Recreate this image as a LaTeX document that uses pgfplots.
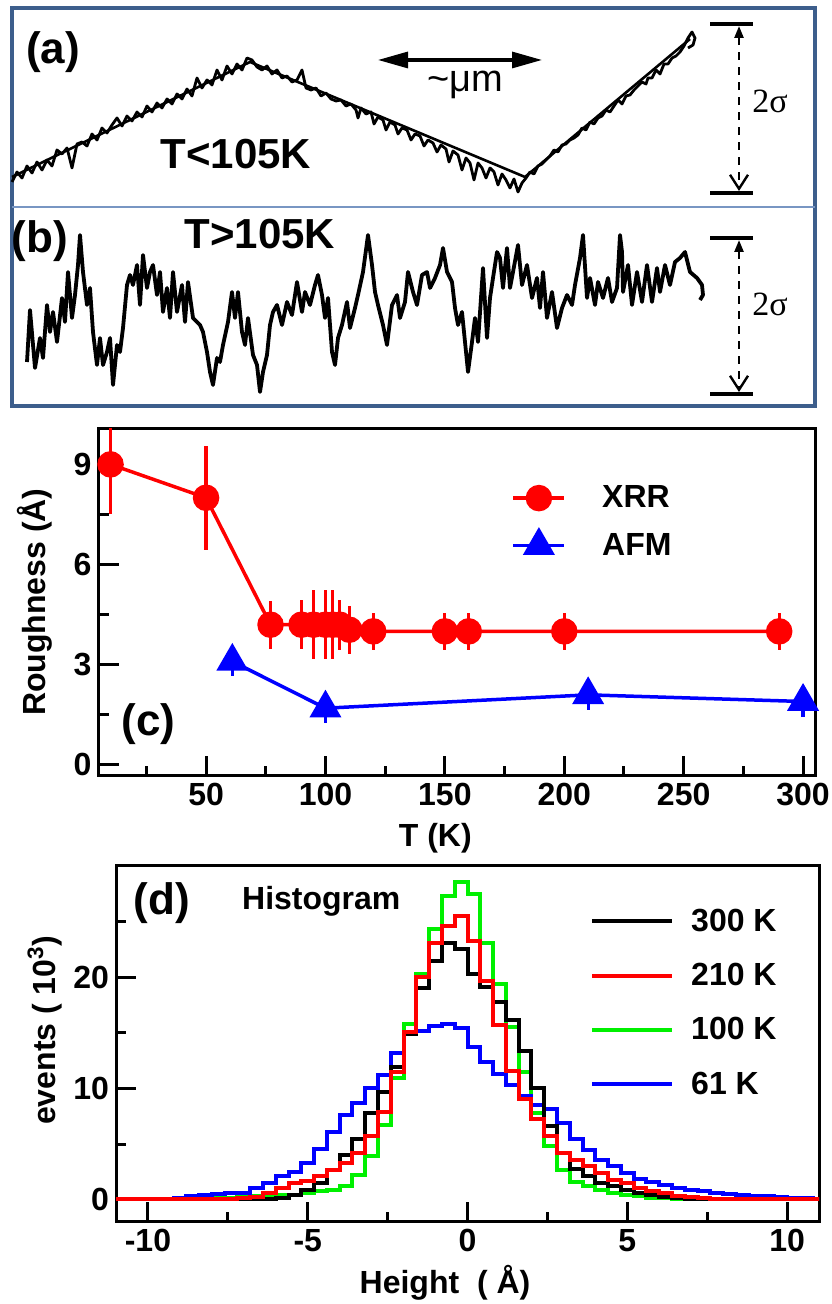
\documentclass[border=0pt]{standalone}
\usepackage{fontspec}
\setmainfont{Liberation Sans}
\newfontfamily\tnr{Liberation Serif}
\usepackage{pgfplots}
\usepackage{pgfplotstable}
\pgfplotsset{compat=1.18}
\usetikzlibrary{arrows.meta}

\definecolor{framec}{RGB}{61,94,140}
\definecolor{divc}{RGB}{120,150,195}
\definecolor{hgreen}{RGB}{0,240,0}
\newcommand{\fs}[1]{\fontsize{#1}{#1}\selectfont}

% histogram (d): left bin edge, 300K, 210K, 100K, 61K  (events / 1000)
\pgfplotstableread{
x     k     r     g     b
-11.2 0.05  0.05  0.05  0.05
-10.8 0.05  0.05  0.05  0.05
-10.4 0.05  0.05  0.05  0.05
-10.0 0.05  0.05  0.05  0.1
-9.6  0.05  0.05  0.05  0.1
-9.2  0.05  0.05  0.05  0.2
-8.8  0.05  0.05  0.1   0.3
-8.4  0.05  0.1   0.15  0.4
-8.0  0.05  0.1   0.15  0.5
-7.6  0.05  0.1   0.2   0.65
-7.2  0.1   0.15  0.25  0.65
-6.8  0.1   0.25  0.3   1.05
-6.4  0.1   0.6   0.35  1.5
-6.0  0.15  1.05  0.45  2.1
-5.6  0.4   1.5   0.45  2.5
-5.2  0.9   1.65  0.6   3.3
-4.8  1.5   2.15  0.75  4.6
-4.4  2.7   2.7   0.9   6.1
-4.0  4.0   3.3   1.25  7.6
-3.6  5.5   4.2   2.2   8.7
-3.2  7.8   5.7   3.9   10.0
-2.8  9.7   7.9   6.7   11.2
-2.4  11.9  11.5  10.9  13.2
-2.0  14.9  15.1  15.8  15.0
-1.6  19.0  20.0  20.3  15.2
-1.2  21.5  23.1  24.3  15.6
-0.8  23.1  24.6  27.3  15.8
-0.4  22.5  25.5  28.6  15.4
0.0   20.3  23.3  27.5  13.7
0.4   19.1  19.7  23.1  12.4
0.8   17.8  15.7  19.4  11.3
1.2   16.2  11.6  15.5  10.3
1.6   13.4  9.1   11.5  9.3
2.0   10.0  7.3   7.8   8.5
2.4   6.6   5.7   4.8   8.2
2.8   4.2   4.2   2.7   6.9
3.2   2.8   3.6   1.6   5.5
3.6   2.1   3.0   1.2   4.5
4.0   1.5   2.4   0.9   3.6
4.4   1.2   1.8   0.65  3.0
4.8   0.9   1.5   0.45  2.4
5.2   0.65  1.05  0.3   1.9
5.6   0.45  0.75  0.2   1.6
6.0   0.25  0.6   0.15  1.3
6.4   0.15  0.35  0.1   1.05
6.8   0.1   0.25  0.05  0.9
7.2   0.05  0.15  0.05  0.75
7.6   0.05  0.1   0.05  0.6
8.0   0.05  0.1   0.05  0.5
8.4   0.05  0.1   0.05  0.45
8.8   0.05  0.1   0.05  0.35
9.2   0.05  0.1   0.05  0.3
9.6   0.05  0.1   0.05  0.25
10.0  0.05  0.1   0.05  0.2
10.4  0.05  0.1   0.05  0.15
10.8  0.05  0.1   0.05  0.1
11.2  0.05  0.1   0.05  0.1
}\histo

\pgfplotsset{
  panel/.style={scale only axis, tick pos=left, tick align=inside,
    major tick length=10pt, minor tick length=5pt,
    axis line style={line width=1.5pt},
    every tick/.style={black, line width=1.5pt},
    tick label style={font=\fs{16}\bfseries},
    label style={font=\fs{16}\bfseries},
    /pgf/number format/assume math mode=true,
    legend cell align=left},
}

\begin{document}
\begin{tikzpicture}
\path[use as bounding box] (0,0) rectangle (415.5pt,652pt);

% ---------- (a) and (b): sketched profiles, coordinates in pixels ----------
\begin{axis}[at={(206.75pt,548.5pt)}, anchor=center, scale only axis,
  width=401.5pt, height=199pt, xmin=12, xmax=815, ymin=8, ymax=406,
  y dir=reverse, axis lines=none, clip=false]
\draw[framec, line width=1.6pt] (axis cs:12,8) rectangle (axis cs:815,406);
\draw[divc, line width=1pt] (axis cs:12,207) -- (axis cs:815,207);

% (a) T<105K
\addplot[black, line width=1.3pt] coordinates {(12,177) (250,62) (525,177) (690,39)};
\addplot[black, line width=1.4pt, line join=round] coordinates {
 (12,182) (17,172) (22,178) (27,166) (32,173) (37,162) (42,170) (47,160) (52,166)
 (57,150) (62,154) (67,148) (72,168) (77,144) (82,142) (87,146) (92,134) (97,140)
 (102,128) (107,133) (112,125) (117,118) (122,126) (127,116) (132,121) (137,112)
 (142,117) (147,106) (152,112) (157,103) (162,108) (167,99) (172,104) (177,94)
 (182,99) (187,89) (192,96) (197,78) (202,88) (207,80) (212,85) (217,70) (222,80)
 (227,66) (232,74) (237,64) (242,70) (247,58) (252,60) (257,67) (262,70) (267,66)
 (272,74) (277,70) (282,78) (287,76) (292,82) (297,80) (302,70) (306,88) (311,90)
 (316,88) (321,96) (326,93) (331,99) (336,101) (341,100) (346,106) (351,104)
 (356,110) (358,118) (361,108) (366,114) (371,112) (374,124) (378,117) (383,120)
 (386,130) (390,122) (395,125) (398,134) (402,128) (407,130) (411,140) (415,134)
 (420,136) (424,146) (428,140) (433,143) (437,152) (441,145) (446,149) (449,162)
 (453,151) (458,155) (462,170) (466,158) (470,163) (474,180) (478,163) (482,168)
 (486,178) (490,168) (494,172) (498,185) (502,174) (506,180) (510,188) (514,179)
 (518,192) (522,183) (526,178) (530,172) (534,174) (538,166) (542,164) (546,160)
 (550,156) (554,150) (558,152) (562,145) (566,144) (570,140) (574,138) (578,135)
 (582,128) (586,130) (590,122) (594,124) (598,118) (602,116) (606,110) (610,112)
 (614,106) (618,100) (622,104) (626,96) (630,95) (634,90) (638,86) (642,82)
 (646,84) (648,78) (652,78) (656,70) (660,74) (664,64) (668,64) (672,58) (676,56)
 (680,52) (684,46) (688,38) (692,32) (695,38) (693,45) (688,48)};

% (b) T>105K
\addplot[black, line width=1.9pt, line join=round] coordinates {
 (27,362) (30,310) (35,368) (40,338) (43,358) (47,305) (50,332) (53,312) (57,342)
 (62,298) (65,322) (68,272) (72,318) (75,295) (78,265) (80,235) (83,272) (87,305)
 (90,288) (93,332) (97,365) (100,338) (103,365) (107,352) (110,338) (113,385)
 (117,345) (120,352) (123,328) (127,285) (130,275) (133,285) (137,265) (140,305)
 (143,255) (147,288) (150,272) (153,265) (157,295) (160,272) (163,312) (167,288)
 (170,318) (173,272) (177,312) (182,285) (185,322) (188,282) (193,318) (200,325)
 (203,332) (207,352) (210,372) (213,385) (217,358) (220,362) (223,345) (228,322)
 (232,292) (235,318) (238,292) (242,332) (245,345) (248,318) (253,355) (257,365)
 (260,392) (263,372) (267,355) (270,325) (273,312) (277,305) (282,325) (287,302)
 (292,315) (297,282) (302,312) (305,292) (310,305) (315,285) (318,275) (322,295)
 (325,318) (328,298) (332,352) (335,365) (338,338) (342,325) (347,302) (350,328)
 (355,308) (358,295) (363,272) (368,235) (372,265) (375,292) (378,305) (383,325)
 (387,345) (392,305) (397,295) (400,318) (405,302) (408,272) (413,292) (417,305)
 (422,275) (427,272) (430,288) (435,278) (440,265) (443,248) (447,272) (452,282)
 (455,308) (458,325) (462,312) (465,342) (468,372) (472,342) (475,318) (478,342)
 (483,268) (487,338) (490,298) (493,278) (497,252) (500,258) (503,288) (507,248)
 (510,288) (513,272) (518,245) (522,285) (527,265) (532,298) (537,278) (540,308)
 (543,272) (547,318) (552,292) (557,328) (562,308) (567,295) (572,305) (575,285)
 (580,258) (583,235) (587,298) (590,278) (595,305) (598,282) (603,298) (608,278)
 (612,302) (617,288) (620,235) (622,252) (623,292) (628,265) (632,305) (637,272)
 (642,302) (647,265) (652,302) (657,268) (660,292) (665,265) (670,285) (675,262)
 (680,258) (685,252) (690,272) (697,278) (702,285) (703,295) (700,300)};

% annotations
\node[font=\fs{22}\bfseries] at (axis cs:53,52) {(a)};
\node[font=\fs{21}\bfseries] at (axis cs:236,154) {T<105K};
\node[font=\fs{22}\bfseries] at (axis cs:40,241) {(b)};
\node[font=\fs{21}\bfseries] at (axis cs:260,234) {T>105K};
\draw[line width=1.6pt, {Triangle[length=15pt,width=8pt]}-{Triangle[length=15pt,width=8pt]}]
  (axis cs:378,60) -- (axis cs:542,60);
\node[font=\fs{19}] at (axis cs:465,85) {\textasciitilde μm};
% 2 sigma markers
\draw[line width=1.6pt] (axis cs:710,24) -- (axis cs:753,24) (axis cs:710,193) -- (axis cs:753,193);
\draw[line width=1.2pt, dash pattern=on 4pt off 3.5pt,
  {Triangle[length=6pt,width=4.5pt]}-{Straight Barb[length=7pt,width=9pt]}]
  (axis cs:739,26) -- (axis cs:739,191);
\node[font=\tnr\fs{17}] at (axis cs:770,101) {2σ};
\draw[line width=1.6pt] (axis cs:710,238) -- (axis cs:753,238) (axis cs:710,394) -- (axis cs:753,394);
\draw[line width=1.2pt, dash pattern=on 4pt off 3.5pt,
  {Triangle[length=6pt,width=4.5pt]}-{Straight Barb[length=7pt,width=9pt]}]
  (axis cs:739,240) -- (axis cs:739,392);
\node[font=\tnr\fs{17}] at (axis cs:770,304) {2σ};
\end{axis}

% ---------- (c) roughness vs T ----------
\begin{axis}[panel, at={(49.3pt,264pt)}, anchor=south west,
  width=358.2pt, height=173.5pt,
  xmin=5, xmax=305, ymin=-0.33, ymax=10.06,
  xtick={50,100,150,200,250,300}, minor xtick={25,75,125,175,225,275},
  ytick={0,3,6,9}, minor ytick={1.5,4.5,7.5},
  xlabel={T (K)}, ylabel={Roughness (Å)},
  xlabel style={at={(axis description cs:0.47,-0.179)}, anchor=center},
  ylabel style={at={(axis description cs:-0.089,0.501)}, anchor=center},
  clip mode=individual,
  legend image code/.code={\draw[mark repeat=2,mark phase=2,#1]
    plot coordinates {(0pt,0pt) (12.75pt,0pt) (25.5pt,0pt)};},
  legend style={draw=none, fill=none, at={(0.576,0.838)}, anchor=north west,
    font=\fs{16}\bfseries, row sep=10pt, column sep=18pt, inner sep=0pt,
    nodes={inner sep=0pt}},
]
\addplot[red, line width=1.75pt, mark=*, mark size=5.75pt,
  error bars/.cd, y dir=both, y explicit, error mark=none,
  error bar style={line width=1.6pt}] coordinates {
  (10,9.0) +- (0,1.5)
  (50,8.0) +- (0,1.55)
  (77,4.2) +- (0,0.72)
  (90,4.2) +- (0,0.74)
  (95,4.2) +- (0,1.03)
  (100,4.2) +- (0,1.03)
  (103,4.2) +- (0,1.03)
  (106,4.2) +- (0,0.75)
  (110,4.05) +- (0,0.72)
  (120,4.0) +- (0,0.55)
  (150,4.0) +- (0,0.55)
  (160,4.0) +- (0,0.55)
  (200,4.0) +- (0,0.55)
  (290,4.0) +- (0,0.55)
};
\addlegendentry{XRR}
\addplot[blue, line width=1.75pt, mark=triangle*, mark size=7.5pt,
  error bars/.cd, y dir=both, y explicit, error mark=none,
  error bar style={line width=1.6pt}] coordinates {
  (61,3.1) +- (0,0.45)
  (100,1.7) +- (0,0.45)
  (210,2.1) +- (0,0.45)
  (300,1.9) +- (0,0.45)
};
\addlegendentry{AFM}
\node[font=\fs{22}\bfseries] at (rel axis cs:0.07,0.15) {(c)};
\end{axis}

% ---------- (d) height histograms ----------
\begin{axis}[panel, at={(58pt,41pt)}, anchor=south west,
  width=351.5pt, height=178pt,
  xmin=-11, xmax=11, ymin=-2, ymax=30,
  xtick={-10,-5,0,5,10}, minor xtick={-7.5,-2.5,2.5,7.5},
  ytick={0,10,20}, minor ytick={5,15,25},
  xlabel={Height\ \ ( Å)}, ylabel={events ( 10\textsuperscript{3})},
  xlabel style={at={(axis description cs:0.468,-0.171)}, anchor=center},
  ylabel style={at={(axis description cs:-0.101,0.539)}, anchor=center},
  legend image code/.code={\draw[#1] (0pt,0pt) -- (40pt,0pt);},
  legend style={draw=none, fill=none, at={(0.674,0.881)}, anchor=north west,
    font=\fs{16}\bfseries, row sep=14.5pt, column sep=8.5pt, inner sep=0pt,
    nodes={inner sep=0pt}},
]
\addplot[hgreen, line width=2pt, const plot, forget plot] table[x=x, y=g] {\histo};
\addplot[blue, line width=2pt, const plot, forget plot] table[x=x, y=b] {\histo};
\addplot[black, line width=2pt, const plot, forget plot] table[x=x, y=k] {\histo};
\addplot[red, line width=2pt, const plot, forget plot] table[x=x, y=r] {\histo};
\addlegendimage{black, line width=2pt}
\addlegendentry{300 K}
\addlegendimage{red, line width=2pt}
\addlegendentry{210 K}
\addlegendimage{hgreen, line width=2pt}
\addlegendentry{100 K}
\addlegendimage{blue, line width=2pt}
\addlegendentry{61 K}
\node[font=\fs{22}\bfseries] at (rel axis cs:0.065,0.896) {(d)};
\node[font=\fs{16}\bfseries] at (rel axis cs:0.292,0.902) {Histogram};
\end{axis}
\end{tikzpicture}
\end{document}
